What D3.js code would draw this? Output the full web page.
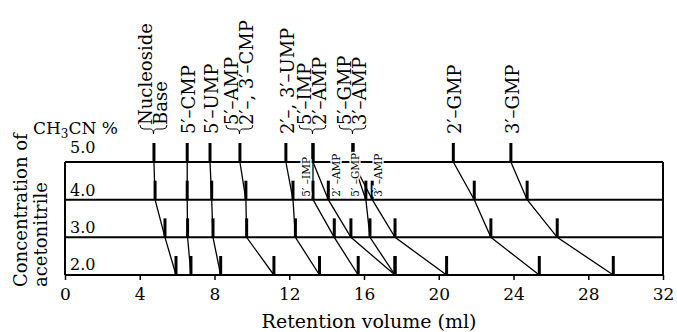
<!DOCTYPE html>
<html>
<head>
<meta charset="utf-8">
<script src="https://cdn.jsdelivr.net/npm/d3@7"></script>
<style>
  body { margin: 0; background: #fff; }
  figure { margin: 0; }
  svg text { font-family: "DejaVu Serif", serif; fill: #000; }
</style>
</head>
<body>
<figure id="chart"></figure>
<script>
// CH3CN concentration of each row, top row first
const concentrations = [5.0, 4.0, 3.0, 2.0];
const rowLabels = ["5.0", "4.0", "3.0", "2.0"];
const xTicks = [0, 4, 8, 12, 16, 20, 24, 28, 32];

// retention volume (ml) at 5.0, 4.0, 3.0 and 2.0 %
const nucleosideBase = [4.76, 4.82, 5.35, 5.94];
const cmp5 = [6.54, 6.54, 6.56, 6.74];
const ump5 = [7.76, 7.85, 7.92, 8.33];
const amp5Cmp23 = [9.36, 9.68, 9.72, 11.18];
const ump23 = [11.82, 12.20, 12.33, 13.62];
const imp5 = [13.27, 13.27, 14.41, 15.69];
const amp2 = [13.27, 14.09, 15.30, 17.66];
const gmp5 = [15.41, 16.10, 16.32, 17.66];
const amp3 = [15.41, 16.44, 17.66, 20.42];
const gmp2 = [20.78, 21.90, 22.79, 25.38];
const gmp3 = [23.86, 24.73, 26.34, 29.34];

const series = [nucleosideBase, cmp5, ump5, amp5Cmp23, ump23, imp5, amp2, gmp5, amp3, gmp2, gmp3];

// names written over the 5.0 row peaks
const topLabels = [
  ["Nucleoside", "Base"],
  ["5\u2032\u2013CMP"],
  ["5\u2032\u2013UMP"],
  ["5\u2032\u2013AMP", "2\u2032\u2013, 3\u2032\u2013CMP"],
  ["2\u2032\u2013, 3\u2032\u2013UMP"],
  ["5\u2032\u2013IMP", "2\u2032\u2013AMP"],
  ["5\u2032\u2013GMP", "3\u2032\u2013AMP"],
  ["2\u2032\u2013GMP"],
  ["3\u2032\u2013GMP"]
];
const topLabelSeries = [nucleosideBase, cmp5, ump5, amp5Cmp23, ump23, imp5, gmp5, gmp2, gmp3];

// small names where the 4.0 row peaks split
const smallLabels = ["5\u2032 \u2013IMP", "2\u2032 \u2013AMP", "5\u2032 \u2013GMP", "3\u2032 \u2013AMP"];
const smallLabelSeries = [imp5, amp2, gmp5, amp3];
const smallLabelShift = [-7, 8, -10.5, 6];

const width = 677, height = 332;
const peakHeight = 19;

const svg = d3.select("figure#chart").append("svg")
  .attr("width", width).attr("height", height)
  .style("display", "block").style("background", "#fff");

const x = d3.scaleLinear().domain([0, 32]).range([65, 663]);
const y = d3.scaleLinear().domain([5, 2]).range([162, 275]);

// frame: one line per row plus the two ends
svg.append("g").selectAll("line").data(concentrations).enter()
  .append("line")
  .attr("x1", x(0)).attr("x2", x(32))
  .attr("y1", d => y(d)).attr("y2", d => y(d))
  .attr("stroke", "#000").attr("stroke-width", 2);
[0, 32].forEach(v => {
  svg.append("line")
    .attr("x1", x(v)).attr("x2", x(v))
    .attr("y1", y(5)).attr("y2", y(2))
    .attr("stroke", "#000").attr("stroke-width", 2);
});

// x axis on the 2.0 row
const axis = svg.append("g")
  .attr("transform", "translate(0," + y(2) + ")")
  .call(d3.axisBottom(x).tickValues(xTicks).tickSize(5).tickSizeOuter(0));
axis.select(".domain").remove();
axis.selectAll(".tick line").attr("stroke-width", 1.5);
axis.selectAll(".tick text")
  .attr("dy", null).attr("y", 25)
  .attr("font-family", '"DejaVu Serif", serif')
  .style("font-size", "17px");

// lines joining the same compound from row to row
const line = d3.line()
  .x(d => x(d[0]))
  .y(d => y(d[1]));
svg.append("g").selectAll("path").data(series).enter()
  .append("path")
  .attr("d", s => line(s.map((v, i) => [v, concentrations[i]])))
  .attr("fill", "none").attr("stroke", "#000").attr("stroke-width", 1.3);

// peak marks
const peaks = [];
series.forEach(s => s.forEach((v, i) => peaks.push([v, concentrations[i]])));
svg.append("g").selectAll("line").data(peaks).enter()
  .append("line")
  .attr("x1", d => x(d[0])).attr("x2", d => x(d[0]))
  .attr("y1", d => y(d[1])).attr("y2", d => y(d[1]) - peakHeight)
  .attr("stroke", "#000").attr("stroke-width", 3);

// small labels inside the 5.0 - 4.0 band
svg.append("g").selectAll("text").data(smallLabels).enter()
  .append("text")
  .text(d => d)
  .attr("transform", (d, i) => "translate(" + (x(smallLabelSeries[i][1]) + smallLabelShift[i]) + "," + (y(4) - 3) + ") rotate(-90)")
  .attr("dy", "0.35em")
  .style("font-size", "10.5px")
  .attr("stroke", "#fff").attr("stroke-width", 3)
  .style("paint-order", "stroke");

// labels over the top row, pairs get a brace
const topG = svg.append("g");
topLabels.forEach((names, i) => {
  const px = x(topLabelSeries[i][0]);
  const cols = names.length === 1 ? [px + 1.5] : [px - 8, px + 7];
  const start = names.length === 1 ? 134 : 125;
  names.forEach((name, j) => {
    topG.append("text")
      .text(name)
      .attr("transform", "translate(" + cols[j] + "," + start + ") rotate(-90)")
      .attr("dy", "0.36em")
      .style("font-size", "18px");
  });
  if (names.length === 2) {
    const xl = cols[0] - 6, xr = cols[1] + 6, xc = (xl + xr) / 2;
    const yt = 125, ym = 129, yb = 134;
    const p = d3.path();
    p.moveTo(xl, yt);
    p.quadraticCurveTo(xl, ym, xl + 4, ym);
    p.lineTo(xc - 3, ym);
    p.quadraticCurveTo(xc, ym, xc, yb);
    p.quadraticCurveTo(xc, ym, xc + 3, ym);
    p.lineTo(xr - 4, ym);
    p.quadraticCurveTo(xr, ym, xr, yt);
    topG.append("path").attr("d", p.toString())
      .attr("fill", "none").attr("stroke", "#000").attr("stroke-width", 1);
  }
});

// row labels
const rowLabelY = [153, 196, 233, 270];
svg.append("g").selectAll("text").data(rowLabels).enter()
  .append("text")
  .text(d => d)
  .attr("x", 70)
  .attr("y", (d, i) => rowLabelY[i])
  .style("font-size", "16px");

// CH3CN % heading
const head = svg.append("text").attr("x", 33).attr("y", 134).style("font-size", "17px");
head.append("tspan").text("CH");
head.append("tspan").text("3").attr("dy", 4).style("font-size", "12px");
head.append("tspan").text("CN %").attr("dy", -4);

// axis titles
svg.append("text")
  .text("Retention volume (ml)")
  .attr("x", 369).attr("y", 328)
  .attr("text-anchor", "middle")
  .style("font-size", "19px");

svg.append("text")
  .text("Concentration of")
  .attr("transform", "translate(27,287) rotate(-90)")
  .style("font-size", "18px");
svg.append("text")
  .text("acetonitrile")
  .attr("transform", "translate(47,287) rotate(-90)")
  .style("font-size", "18px");
</script>
</body>
</html>
